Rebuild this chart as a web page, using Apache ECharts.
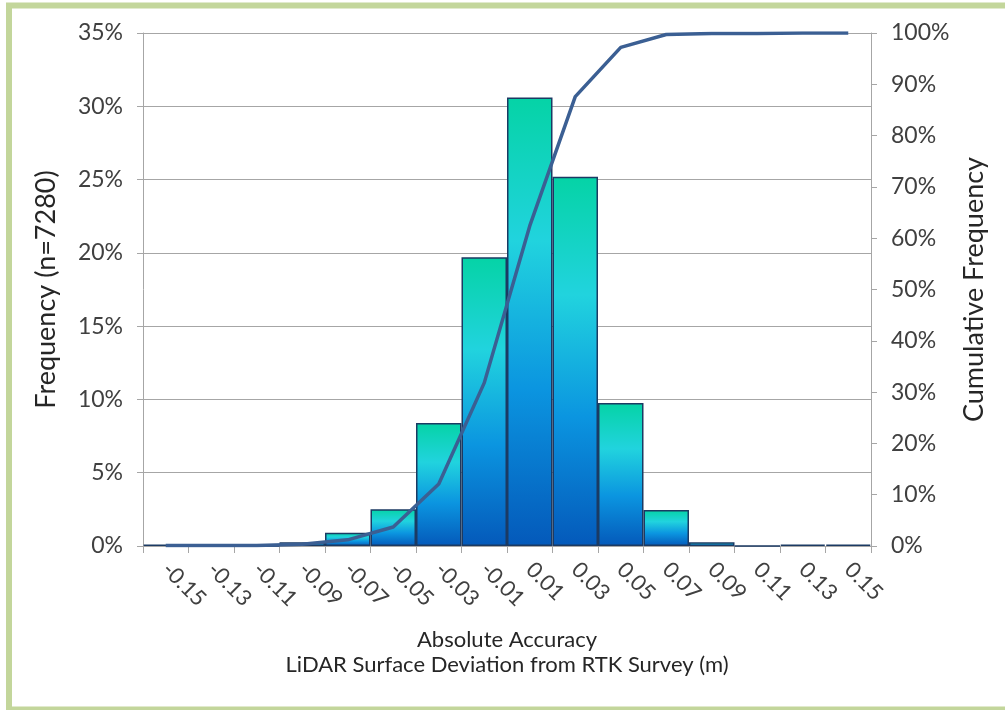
<!DOCTYPE html>
<html>
<head>
<meta charset="utf-8">
<script src="https://cdn.jsdelivr.net/npm/echarts@6/dist/echarts.min.js"></script>
<style>
html,body{margin:0;padding:0;background:#fff;}
#main{width:1005px;height:710px;}
</style>
</head>
<body>
<div id="main"></div>
<script>
var categories = ['-0.15','-0.13','-0.11','-0.09','-0.07','-0.05','-0.03','-0.01','0.01','0.03','0.05','0.07','0.09','0.11','0.13','0.15'];
var frequency = [0.1, 0, 0, 0.25, 0.9, 2.5, 8.4, 19.7, 30.6, 25.2, 9.75, 2.45, 0.25, 0, 0.1, 0.1];
var cumulative = [0.1, 0.1, 0.1, 0.35, 1.2, 3.7, 12.1, 31.8, 62.4, 87.6, 97.2, 99.7, 99.9, 99.9, 100, 100];
var leftTicks = {min: 0, max: 35, interval: 5};
var rightTicks = {min: 0, max: 100, interval: 10};

var chart = echarts.init(document.getElementById('main'), null, {renderer: 'canvas'});
var font = 'Lato, "Noto Sans", sans-serif';
var barGradient = new echarts.graphic.LinearGradient(0, 0, 0, 1, [
  {offset: 0, color: '#05D3A6'},
  {offset: 0.32, color: '#21D3DE'},
  {offset: 0.65, color: '#0B95E0'},
  {offset: 1, color: '#0459BA'}
]);
var option = {
  backgroundColor: '#ffffff',
  animation: false,
  textStyle: {fontFamily: font},
  graphic: [{
    type: 'rect',
    shape: {x: 9, y: 5.5, width: 1010, height: 704},
    style: {fill: 'none', stroke: '#C3D69B', lineWidth: 6},
    silent: true, z: -10
  }],
  grid: {left: 143, right: 134, top: 33, bottom: 164, containLabel: false},
  xAxis: {
    type: 'category',
    data: categories,
    boundaryGap: true,
    name: 'Absolute Accuracy\nLiDAR Surface Deviation from RTK Survey (m)',
    nameLocation: 'middle',
    nameGap: 81,
    nameTextStyle: {fontFamily: font, fontSize: 22, color: '#262626', lineHeight: 25},
    axisLine: {show: true, lineStyle: {color: '#A6A6A6', width: 1}},
    axisTick: {show: true, alignWithLabel: false, length: 7, lineStyle: {color: '#A6A6A6'}},
    axisLabel: {interval: 0, rotate: -45, margin: 20, fontSize: 22, color: '#404040', fontFamily: font},
    splitLine: {show: false}
  },
  yAxis: [{
    type: 'value',
    min: leftTicks.min, max: leftTicks.max, interval: leftTicks.interval,
    name: 'Frequency (n=7280)',
    nameLocation: 'middle',
    nameGap: 83,
    nameTextStyle: {fontFamily: font, fontSize: 27, color: '#262626'},
    axisLine: {show: true, lineStyle: {color: '#A6A6A6'}},
    axisTick: {show: true, length: 6, lineStyle: {color: '#A6A6A6'}},
    axisLabel: {formatter: '{value}%', margin: 20, fontSize: 23, color: '#404040', fontFamily: font},
    splitLine: {show: true, lineStyle: {color: '#A6A6A6', width: 1}}
  }, {
    type: 'value',
    position: 'right',
    min: rightTicks.min, max: rightTicks.max, interval: rightTicks.interval,
    name: 'Cumulative Frequency',
    nameLocation: 'middle',
    nameGap: 83,
    nameTextStyle: {fontFamily: font, fontSize: 27, color: '#262626'},
    axisLine: {show: true, lineStyle: {color: '#A6A6A6'}},
    axisTick: {show: true, length: 6, lineStyle: {color: '#A6A6A6'}},
    axisLabel: {formatter: '{value}%', margin: 20, fontSize: 23, color: '#404040', fontFamily: font},
    splitLine: {show: false}
  }],
  series: [{
    name: 'Frequency',
    type: 'bar',
    yAxisIndex: 0,
    data: frequency,
    barCategoryGap: '0%',
    itemStyle: {color: barGradient, borderColor: '#1B3A63', borderWidth: 1.5},
    z: 2
  }, {
    name: 'Cumulative Frequency',
    type: 'line',
    yAxisIndex: 1,
    data: cumulative,
    showSymbol: false,
    symbol: 'none',
    lineStyle: {color: '#3B5F93', width: 3.5},
    z: 3
  }]
};
chart.setOption(option);
</script>
</body>
</html>
